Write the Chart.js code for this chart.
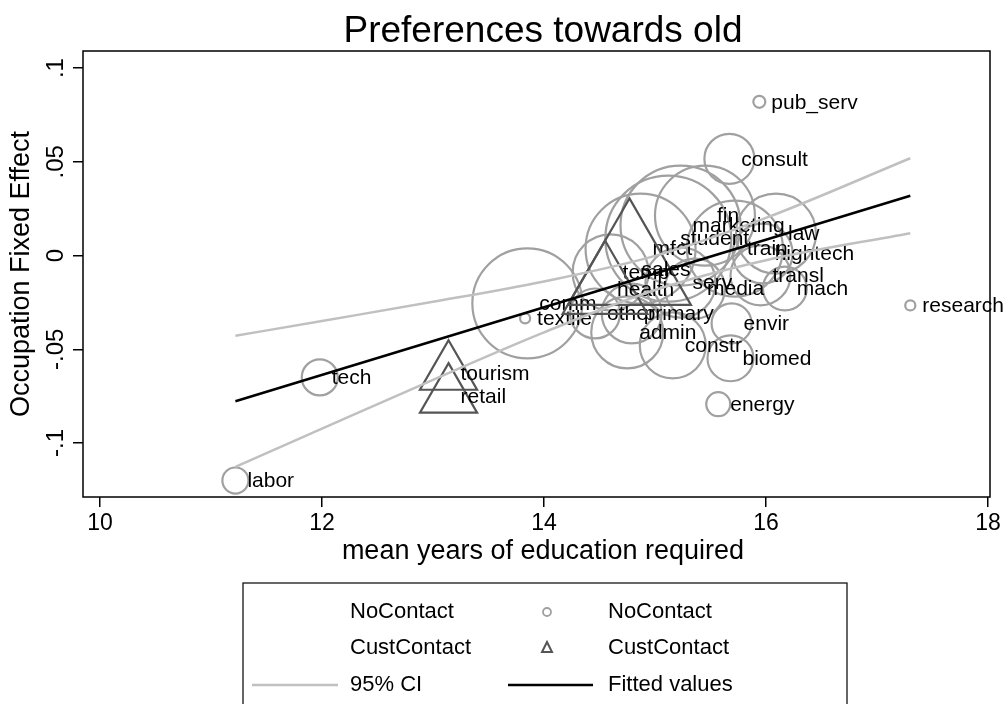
<!DOCTYPE html>
<html>
<head>
<meta charset="utf-8">
<script src="https://cdn.jsdelivr.net/npm/chart.js@4.4.1/dist/chart.umd.min.js"></script>
<style>
  html, body { margin: 0; padding: 0; background: #fff; }
</style>
</head>
<body>
<canvas id="myChart" width="1008" height="704"></canvas>
<script>
// occupations without customer contact (circles, weighted by employment)
const noContactNames = ["labor", "tech", "textile", "comm", "pub_serv", "consult", "research", "energy",
  "biomed", "constr", "admin", "envir", "law", "hightech", "transl", "mach", "media", "serv",
  "marketing", "student", "mfct", "train", "fin", "other", "primary", "temp"];
const noContactEduc = [11.22, 11.98, 13.83, 13.85, 15.94, 15.67, 17.30, 15.57,
  15.68, 15.16, 14.75, 15.69, 16.09, 15.97, 15.95, 16.17, 15.36, 15.23,
  15.23, 15.12, 14.87, 15.72, 15.45, 14.46, 14.79, 14.60];
const noContactFE = [-0.120, -0.065, -0.0335, -0.0255, 0.082, 0.0516, -0.0266, -0.0793,
  -0.0548, -0.0479, -0.041, -0.0362, 0.0117, 0.0011, -0.0106, -0.0176, -0.0176, -0.0144,
  0.016, 0.009, 0.0037, 0.0037, 0.0213, -0.0309, -0.0309, -0.009];
const noContactWeight = [10.6, 20.3, 1.6, 189, 2.25, 39, 1.6, 9,
  33, 68, 81, 25, 100, 56, 56, 30, 56, 77,
  225, 248, 189, 144, 156, 39, 56, 90];

// occupations with customer contact (triangles)
const custNames = ["tourism", "retail", "sales", "health"];
const custEduc = [13.14, 13.14, 14.77, 14.55];
const custFE = [-0.0628, -0.075, -0.0074, -0.0181];
const custWeight = [68, 68, 315, 150];

// linear fit and 95% confidence band
const fitEduc = [11.22, 17.30];
const fitValues = [-0.0777, 0.0319];
const ciEduc = [11.22, 12, 13, 14, 15, 16, 17.30];
const ciUpper = [-0.0428, -0.0349, -0.0247, -0.0138, -0.0002, 0.0201, 0.0519];
const ciLower = [-0.1127, -0.0923, -0.0663, -0.041, -0.0184, -0.0025, 0.0119];

const xTicks = [10, 12, 14, 16, 18];
const yTicks = [-0.1, -0.05, 0, 0.05, 0.1];
const yTickLabels = ["-.1", "-.05", "0", ".05", ".1"];

const FONT = "'Liberation Sans', Arial, Helvetica, sans-serif";
const circleGray = "#a0a0a0";
const triGray = "#555555";
const ciGray = "#c0c0c0";

function toPoints(xs, ys) {
  return xs.map((x, i) => ({ x: x, y: ys[i] }));
}
function sizeOf(w) {
  return 4 * Math.sqrt(w);
}

const framePlugin = {
  id: "stataFrame",
  afterDatasetDraw(chart, args) {
    const ds = chart.data.datasets[args.index];
    if (!ds.pointLabels) return;
    const ctx = chart.ctx;
    ctx.save();
    ctx.font = "21px " + FONT;
    ctx.fillStyle = "#000";
    ctx.textAlign = "left";
    ctx.textBaseline = "middle";
    args.meta.data.forEach((el, i) => {
      ctx.fillText(ds.pointLabels[i], el.x + 12, el.y + 1);
    });
    ctx.restore();
  },
  afterDraw(chart) {
    const ctx = chart.ctx;
    const a = chart.chartArea;
    const ys = chart.scales.y;
    ctx.save();
    // plot frame
    ctx.strokeStyle = "#000";
    ctx.lineWidth = 1.5;
    ctx.strokeRect(a.left, a.top, a.right - a.left, a.bottom - a.top);

    ctx.fillStyle = "#000";
    // y tick labels, rotated like Stata
    ctx.font = "24px " + FONT;
    ctx.textAlign = "center";
    ctx.textBaseline = "middle";
    yTicks.forEach((v, i) => {
      ctx.save();
      ctx.translate(56, ys.getPixelForValue(v));
      ctx.rotate(-Math.PI / 2);
      ctx.fillText(yTickLabels[i], 0, 0);
      ctx.restore();
    });
    // y axis title
    ctx.font = "27px " + FONT;
    ctx.save();
    ctx.translate(22, (a.top + a.bottom) / 2);
    ctx.rotate(-Math.PI / 2);
    ctx.fillText("Occupation Fixed Effect", 0, 0);
    ctx.restore();
    // x axis title
    ctx.fillText("mean years of education required", 543, 552);
    // chart title
    ctx.font = "37px " + FONT;
    ctx.fillText("Preferences towards old", 543, 32);

    // legend
    ctx.lineWidth = 1.2;
    ctx.strokeRect(243, 583, 604, 140);
    ctx.font = "22px " + FONT;
    ctx.textAlign = "left";
    const rows = [612, 648, 685];
    ctx.fillText("NoContact", 350, rows[0]);
    ctx.fillText("CustContact", 350, rows[1]);
    ctx.fillText("95% CI", 350, rows[2]);
    ctx.fillText("NoContact", 608, rows[0]);
    ctx.fillText("CustContact", 608, rows[1]);
    ctx.fillText("Fitted values", 608, rows[2]);
    ctx.strokeStyle = ciGray;
    ctx.lineWidth = 2.5;
    ctx.beginPath(); ctx.moveTo(252, rows[2]); ctx.lineTo(338, rows[2]); ctx.stroke();
    ctx.strokeStyle = "#000";
    ctx.lineWidth = 2.5;
    ctx.beginPath(); ctx.moveTo(508, rows[2]); ctx.lineTo(593, rows[2]); ctx.stroke();
    ctx.strokeStyle = circleGray;
    ctx.lineWidth = 1.8;
    ctx.beginPath(); ctx.arc(547, rows[0], 4, 0, Math.PI * 2); ctx.stroke();
    ctx.strokeStyle = triGray;
    ctx.lineWidth = 2;
    ctx.beginPath();
    ctx.moveTo(547, rows[1] - 6); ctx.lineTo(552, rows[1] + 4); ctx.lineTo(542, rows[1] + 4); ctx.closePath();
    ctx.stroke();
    ctx.restore();
  }
};

const ctx = document.getElementById("myChart");

new Chart(ctx, {
  type: "scatter",
  data: {
    datasets: [
      {
        label: "Fitted values",
        data: toPoints(fitEduc, fitValues),
        showLine: true,
        borderColor: "#000",
        borderWidth: 2.5,
        pointRadius: 0,
        order: 0
      },
      {
        label: "95% CI",
        data: toPoints(ciEduc, ciUpper),
        showLine: true,
        cubicInterpolationMode: "monotone",
        borderColor: ciGray,
        borderWidth: 2.5,
        pointRadius: 0,
        order: 1
      },
      {
        label: "95% CI",
        data: toPoints(ciEduc, ciLower),
        showLine: true,
        cubicInterpolationMode: "monotone",
        borderColor: ciGray,
        borderWidth: 2.5,
        pointRadius: 0,
        order: 1
      },
      {
        label: "CustContact",
        data: toPoints(custEduc, custFE),
        pointLabels: custNames,
        pointStyle: "triangle",
        pointRadius: custWeight.map(sizeOf),
        pointBorderColor: triGray,
        pointBackgroundColor: "rgba(0,0,0,0)",
        pointBorderWidth: 2.2,
        order: 2
      },
      {
        label: "NoContact",
        data: toPoints(noContactEduc, noContactFE),
        pointLabels: noContactNames,
        pointStyle: "circle",
        pointRadius: noContactWeight.map(sizeOf),
        pointBorderColor: circleGray,
        pointBackgroundColor: "rgba(0,0,0,0)",
        pointBorderWidth: 2.2,
        order: 3
      }
    ]
  },
  options: {
    responsive: false,
    animation: false,
    devicePixelRatio: 1,
    events: [],
    layout: {
      autoPadding: false,
      padding: { top: 51, right: 18, bottom: 147, left: 0 }
    },
    plugins: {
      legend: { display: false },
      tooltip: { enabled: false },
      title: { display: false }
    },
    scales: {
      x: {
        type: "linear",
        min: 9.847,
        max: 18.018,
        afterBuildTicks: (s) => { s.ticks = xTicks.map((v) => ({ value: v })); },
        afterFit: (s) => { s.height = 60; },
        ticks: {
          font: { family: FONT, size: 23 },
          color: "#000",
          padding: 3,
          maxRotation: 0
        },
        grid: { drawOnChartArea: false, drawTicks: true, tickLength: 10, color: "#000", lineWidth: 1.5 },
        border: { display: false }
      },
      y: {
        type: "linear",
        min: -0.1288,
        max: 0.1091,
        afterBuildTicks: (s) => { s.ticks = yTicks.map((v) => ({ value: v })); },
        afterFit: (s) => { s.width = 83; },
        ticks: { display: false },
        grid: { drawOnChartArea: false, drawTicks: true, tickLength: 10, color: "#000", lineWidth: 1.5 },
        border: { display: false }
      }
    }
  },
  plugins: [framePlugin]
});
</script>
</body>
</html>
